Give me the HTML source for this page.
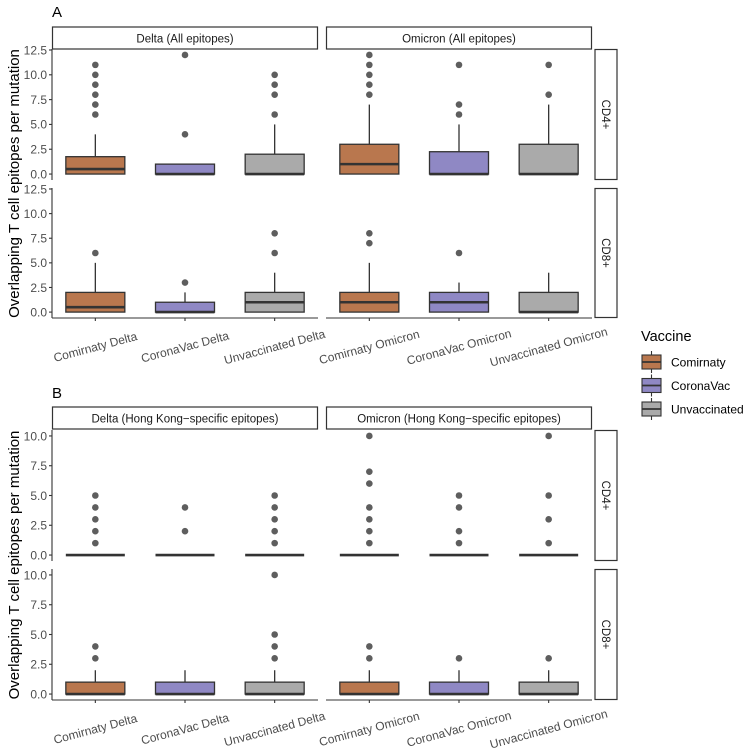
<!DOCTYPE html>
<html><head><meta charset="utf-8">
<style>
html,body{margin:0;padding:0;background:#fff;}
svg{display:block;font-family:"Liberation Sans",Arial,sans-serif;}
</style></head>
<body>
<svg id="chart" width="745" height="749" viewBox="0 0 745 749" xmlns="http://www.w3.org/2000/svg"></svg>
<script>
const categoriesDelta = ["Comirnaty Delta","CoronaVac Delta","Unvaccinated Delta"];
const categoriesOmicron = ["Comirnaty Omicron","CoronaVac Omicron","Unvaccinated Omicron"];
const vaccines = ["Comirnaty","CoronaVac","Unvaccinated"];
const yTicksA = [0,2.5,5,7.5,10,12.5];
const yTicksB = [0,2.5,5,7.5,10];
// Panel A, CD4
const aCd4DeltaQ1=[0,0,0], aCd4DeltaMed=[0.5,0,0], aCd4DeltaQ3=[1.75,1,2], aCd4DeltaWhi=[4,1,5];
const aCd4DeltaOut=[[6,7,8,9,10,11],[4,12],[6,8,9,10]];
const aCd4OmiQ1=[0,0,0], aCd4OmiMed=[1,0,0], aCd4OmiQ3=[3,2.25,3], aCd4OmiWhi=[7,5,7];
const aCd4OmiOut=[[8,9,10,11,12],[6,7,11],[8,11]];
// Panel A, CD8
const aCd8DeltaQ1=[0,0,0], aCd8DeltaMed=[0.5,0,1], aCd8DeltaQ3=[2,1,2], aCd8DeltaWhi=[5,2,4];
const aCd8DeltaOut=[[6],[3],[6,8]];
const aCd8OmiQ1=[0,0,0], aCd8OmiMed=[1,1,0], aCd8OmiQ3=[2,2,2], aCd8OmiWhi=[5,3,4];
const aCd8OmiOut=[[7,8],[6],[]];
// Panel B, CD4
const bCd4DeltaQ1=[0,0,0], bCd4DeltaMed=[0,0,0], bCd4DeltaQ3=[0,0,0], bCd4DeltaWhi=[0,0,0];
const bCd4DeltaOut=[[1,2,3,4,5],[2,4],[1,2,3,4,5]];
const bCd4OmiQ1=[0,0,0], bCd4OmiMed=[0,0,0], bCd4OmiQ3=[0,0,0], bCd4OmiWhi=[0,0,0];
const bCd4OmiOut=[[1,2,3,4,6,7,10],[1,2,4,5],[1,3,5,10]];
// Panel B, CD8
const bCd8DeltaQ1=[0,0,0], bCd8DeltaMed=[0,0,0], bCd8DeltaQ3=[1,1,1], bCd8DeltaWhi=[2,2,2];
const bCd8DeltaOut=[[3,4],[],[3,4,5,10]];
const bCd8OmiQ1=[0,0,0], bCd8OmiMed=[0,0,0], bCd8OmiQ3=[1,1,1], bCd8OmiWhi=[2,2,2];
const bCd8OmiOut=[[3,4],[3],[3]];

const fills=["#b9774e","#8f88c4","#aaaaaa"];
const svg=document.getElementById('chart');
const NS="http://www.w3.org/2000/svg";
function mk(tag,attrs,parent){const e=document.createElementNS(NS,tag);for(const k in attrs)e.setAttribute(k,attrs[k]);(parent||svg).appendChild(e);return e;}

const colLeft=[52,326], colW=266;
function xPos(col,i){return colLeft[col]+colW*(i+0.5)/3 + (i-1)*1;}

function drawPanel(col,top,bottom,lo,hi,q1,med,q3,whi,out,name){
  const y=v=>bottom-(v-lo)/(hi-lo)*(bottom-top);
  const g=mk('g',{});
  
  
  for(let i=0;i<3;i++){
    const cx=xPos(col,i), hw=29.5;
    const wl=mk('line',{x1:cx,x2:cx,y1:y(q3[i]),y2:y(whi[i]),stroke:'#333','stroke-width':1.3},g);
    
    
    const r=mk('rect',{x:cx-hw,y:y(q3[i]),width:hw*2,height:Math.max(0,y(q1[i])-y(q3[i])),fill:fills[i],stroke:'#333','stroke-width':1.3},g);
    
    
    const m=mk('line',{x1:cx-hw,x2:cx+hw,y1:y(med[i]),y2:y(med[i]),stroke:'#333','stroke-width':2.6},g);
    
    
    out[i].forEach(v=>{
      const c=mk('circle',{cx:cx,cy:y(v),r:3.3,fill:'rgba(40,40,40,0.75)'},g);
      
      
    });
  }
}
function yAxis(top,bottom,lo,hi,ticks,name){
  const y=v=>bottom-(v-lo)/(hi-lo)*(bottom-top);
  const g=mk('g',{});
  
  
  mk('line',{x1:52,x2:52,y1:top,y2:bottom,stroke:'#333','stroke-width':1.1},g);
  ticks.forEach(t=>{
    mk('line',{x1:49,x2:52,y1:y(t),y2:y(t),stroke:'#333','stroke-width':1.1},g);
    const tx=mk('text',{x:47,y:y(t)+4.3,'text-anchor':'end','font-size':12,fill:'#4d4d4d'},g);
    tx.textContent=t.toFixed(1);
  });
}
function xAxis(bottom,name){
  const g=mk('g',{});
  
  
  [0,1].forEach(col=>{
    mk('line',{x1:colLeft[col],x2:colLeft[col]+colW,y1:bottom,y2:bottom,stroke:'#333','stroke-width':1.1},g);
    const cats=col===0?categoriesDelta:categoriesOmicron;
    cats.forEach((c,i)=>{
      const cx=xPos(col,i);
      mk('line',{x1:cx,x2:cx,y1:bottom,y2:bottom+3,stroke:'#333','stroke-width':1.1},g);
      const t=mk('text',{x:cx,y:bottom+33,'text-anchor':'middle','font-size':12,fill:'#4d4d4d',transform:`rotate(-15 ${cx} ${bottom+29})`},g);
      
      
      t.textContent=c;
    });
  });
}
function stripTop(y0,labels,name){
  labels.forEach((l,col)=>{
    const r=mk('rect',{x:colLeft[col]+0.5,y:y0,width:colW-1,height:22,fill:'#fff',stroke:'#333','stroke-width':1.2});
    
    
    const t=mk('text',{x:colLeft[col]+colW/2,y:y0+15.5,'text-anchor':'middle','font-size':11.5,fill:'#1a1a1a'});
    
    
    t.textContent=l;
  });
}
function stripRight(top,bottom,label,name){
  const r=mk('rect',{x:595,y:top+0.5,width:22,height:bottom-top-1,fill:'#fff',stroke:'#333','stroke-width':1.2});
  
  
  const cy=(top+bottom)/2;
  const t=mk('text',{x:606,y:cy,'text-anchor':'middle','font-size':11.5,fill:'#1a1a1a',transform:`rotate(90 606 ${cy}) translate(0 4)`});
  t.textContent=label;
}

// Panel A
let t=mk('text',{x:52,y:17,'font-size':15,fill:'#000'});t.textContent='A';

stripTop(27,["Delta (All epitopes)","Omicron (All epitopes)"],'panel-a');
const aT1=49,aB1=180,aT2=188,aB2=318;
yAxis(aT1,aB1,-0.6,12.6,yTicksA,'y-axis-a-cd4');
yAxis(aT2,aB2,-0.6,12.6,yTicksA,'y-axis-a-cd8');
drawPanel(0,aT1,aB1,-0.6,12.6,aCd4DeltaQ1,aCd4DeltaMed,aCd4DeltaQ3,aCd4DeltaWhi,aCd4DeltaOut,'a-cd4-delta');
drawPanel(1,aT1,aB1,-0.6,12.6,aCd4OmiQ1,aCd4OmiMed,aCd4OmiQ3,aCd4OmiWhi,aCd4OmiOut,'a-cd4-omicron');
drawPanel(0,aT2,aB2,-0.6,12.6,aCd8DeltaQ1,aCd8DeltaMed,aCd8DeltaQ3,aCd8DeltaWhi,aCd8DeltaOut,'a-cd8-delta');
drawPanel(1,aT2,aB2,-0.6,12.6,aCd8OmiQ1,aCd8OmiMed,aCd8OmiQ3,aCd8OmiWhi,aCd8OmiOut,'a-cd8-omicron');
stripRight(aT1,aB1,'CD4+','a-cd4-strip');
stripRight(aT2,aB2,'CD8+','a-cd8-strip');
xAxis(aB2,'x-axis-a');
t=mk('text',{x:15,y:(aT1+aB2)/2,'text-anchor':'middle','font-size':15,fill:'#000',transform:`rotate(-90 15 ${(aT1+aB2)/2}) translate(0 4)`});

t.textContent='Overlapping T cell epitopes per mutation';

// Panel B
t=mk('text',{x:52,y:398,'font-size':15,fill:'#000'});t.textContent='B';

stripTop(407,["Delta (Hong Kong\u2212specific epitopes)","Omicron (Hong Kong\u2212specific epitopes)"],'panel-b');
const bT1=430,bB1=561,bT2=569,bB2=700;
yAxis(bT1,bB1,-0.5,10.5,yTicksB,'y-axis-b-cd4');
yAxis(bT2,bB2,-0.5,10.5,yTicksB,'y-axis-b-cd8');
drawPanel(0,bT1,bB1,-0.5,10.5,bCd4DeltaQ1,bCd4DeltaMed,bCd4DeltaQ3,bCd4DeltaWhi,bCd4DeltaOut,'b-cd4-delta');
drawPanel(1,bT1,bB1,-0.5,10.5,bCd4OmiQ1,bCd4OmiMed,bCd4OmiQ3,bCd4OmiWhi,bCd4OmiOut,'b-cd4-omicron');
drawPanel(0,bT2,bB2,-0.5,10.5,bCd8DeltaQ1,bCd8DeltaMed,bCd8DeltaQ3,bCd8DeltaWhi,bCd8DeltaOut,'b-cd8-delta');
drawPanel(1,bT2,bB2,-0.5,10.5,bCd8OmiQ1,bCd8OmiMed,bCd8OmiQ3,bCd8OmiWhi,bCd8OmiOut,'b-cd8-omicron');
stripRight(bT1,bB1,'CD4+','b-cd4-strip');
stripRight(bT2,bB2,'CD8+','b-cd8-strip');
xAxis(bB2,'x-axis-b');
t=mk('text',{x:15,y:(bT1+bB2)/2,'text-anchor':'middle','font-size':15,fill:'#000',transform:`rotate(-90 15 ${(bT1+bB2)/2}) translate(0 4)`});

t.textContent='Overlapping T cell epitopes per mutation';

// Legend
const lg=mk('g',{});


t=mk('text',{x:641,y:341,'font-size':14.5,fill:'#000'},lg);t.textContent='Vaccine';
vaccines.forEach((v,i)=>{
  const cy=362+i*23.5;
  const e=mk('g',{},lg);
  
  
  mk('line',{x1:651.5,x2:651.5,y1:cy-11,y2:cy+11,stroke:'#333','stroke-width':1.1},e);
  mk('rect',{x:642,y:cy-7,width:19,height:14,fill:fills[i],stroke:'#333','stroke-width':1.1},e);
  mk('line',{x1:642,x2:661,y1:cy,y2:cy,stroke:'#333','stroke-width':1.8},e);
  const tx=mk('text',{x:671,y:cy+4.5,'font-size':12,fill:'#000'},e);tx.textContent=v;
});
</script>
</body></html>
